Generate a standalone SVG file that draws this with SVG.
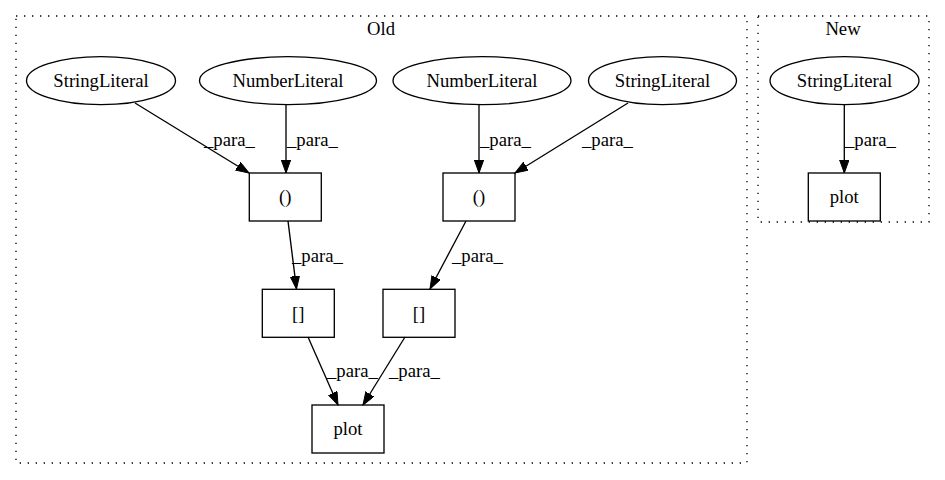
<svg xmlns="http://www.w3.org/2000/svg" width="945" height="480" viewBox="0 0 945 480">
<style>
text{font-family:"Liberation Serif","Times New Roman",serif;font-size:18.67px;fill:#000}
.n{text-anchor:middle}
.cl{fill:none;stroke:#000;stroke-width:1.33;stroke-dasharray:1.33 6.67}
.nd{fill:none;stroke:#000;stroke-width:1.33}
.e{fill:none;stroke:#000;stroke-width:1.33;marker-end:url(#ah)}
</style>
<defs>
<marker id="ah" markerUnits="userSpaceOnUse" markerWidth="14" markerHeight="10" refX="13" refY="4.67" orient="auto">
<path d="M0,0 L13,4.67 L0,9.33 Z" fill="#000" stroke="#000" stroke-width="1"/>
</marker>
</defs>
<rect fill="#fff" x="0" y="0" width="945" height="480"/>
<g id="cluster_old">
<rect class="cl" x="16" y="16" width="731" height="447"/>
<text class="n" x="381" y="35">Old</text>
</g>
<g id="cluster_new">
<rect class="cl" x="758" y="16" width="171" height="206"/>
<text class="n" x="843" y="35">New</text>
</g>
<g id="sl1"><ellipse class="nd" cx="101" cy="80.7" rx="74.5" ry="24"/><text class="n" x="101" y="87">StringLiteral</text></g>
<g id="nl1"><ellipse class="nd" cx="288" cy="80.7" rx="88.5" ry="24"/><text class="n" x="288" y="87">NumberLiteral</text></g>
<g id="nl2"><ellipse class="nd" cx="482" cy="80.7" rx="89" ry="24"/><text class="n" x="482" y="87">NumberLiteral</text></g>
<g id="sl2"><ellipse class="nd" cx="662.5" cy="80.7" rx="74" ry="24"/><text class="n" x="662.5" y="87">StringLiteral</text></g>
<g id="call1"><rect class="nd" x="249.3" y="173" width="72" height="48"/><text class="n" x="285.3" y="203">()</text></g>
<g id="call2"><rect class="nd" x="443" y="173" width="72" height="48"/><text class="n" x="479" y="203">()</text></g>
<g id="idx1"><rect class="nd" x="262.3" y="289.3" width="72" height="48"/><text class="n" x="298.3" y="319.5">[]</text></g>
<g id="idx2"><rect class="nd" x="383" y="289.3" width="72" height="48"/><text class="n" x="419" y="319.5">[]</text></g>
<g id="plot_old"><rect class="nd" x="312" y="405" width="72" height="48"/><text class="n" x="348" y="435">plot</text></g>
<g id="sl_new"><ellipse class="nd" cx="844.5" cy="80.7" rx="74.5" ry="24"/><text class="n" x="844.5" y="87">StringLiteral</text></g>
<g id="plot_new"><rect class="nd" x="808.3" y="173" width="72" height="48"/><text class="n" x="844.3" y="203">plot</text></g>
<g id="edges">
<path class="e" d="M135,103 L249,173"/>
<text x="204" y="146">_para_</text>
<path class="e" d="M286,105 L286,173"/>
<text x="287" y="146">_para_</text>
<path class="e" d="M479,105 L479,173"/>
<text x="480" y="146">_para_</text>
<path class="e" d="M628,103 L515,173"/>
<text x="582" y="146">_para_</text>
<path class="e" d="M288,221 L296.5,289"/>
<text x="292" y="262">_para_</text>
<path class="e" d="M466,221 L430,289"/>
<text x="452" y="262">_para_</text>
<path class="e" d="M308,337 L338,405"/>
<text x="327" y="377">_para_</text>
<path class="e" d="M405,337 L363,405"/>
<text x="389" y="377">_para_</text>
<path class="e" d="M844.3,105 L844.3,173"/>
<text x="845" y="146">_para_</text>
</g>
</svg>
